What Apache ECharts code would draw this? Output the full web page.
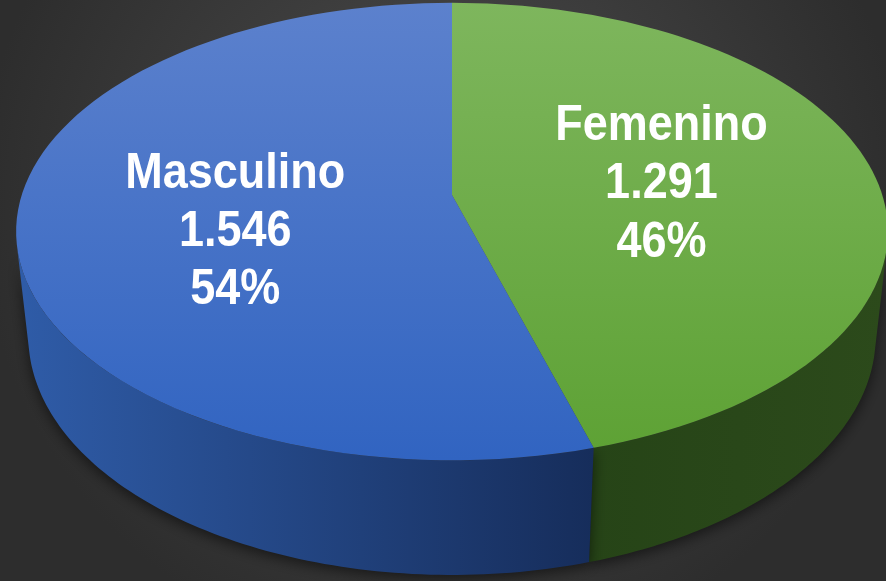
<!DOCTYPE html>
<html>
<head>
<meta charset="utf-8">
<script src="https://cdn.jsdelivr.net/npm/echarts@6/dist/echarts.min.js"></script>
<style>
  html, body { margin: 0; padding: 0; background: #333; }
  #main { width: 886px; height: 581px; }
</style>
</head>
<body>
<div id="main"></div>
<script>
// data (first slice starts at 12 o'clock, clockwise)
var categories = ['Femenino', 'Masculino'];
var values = [1291, 1546];

// styles
var topColors = [['#7eb65d', '#5ea235'], ['#5c81cd', '#3164c1']];
var wallColors = [['#264417', '#2c4a1b'], ['#2f5ca8', '#162d5b']];

// 3d view of the pie: perspective camera looking down at ~31deg
var CX = 452, CY = 195;
var SINA = 0.518, COSA = 0.855;
var DIST = 5.35, F = 2302, DEPTH = 0.291;

function project(X, Y, Z) {
  var d = DIST - (Y * COSA + Z * SINA);
  return [CX + F * X / d, CY - F * (-Y * SINA + Z * COSA) / d];
}
function rimPoint(t, Z) {
  return project(Math.sin(t), -Math.cos(t), Z);
}
function fmt(v) {
  return String(v).replace(/\B(?=(\d{3})+(?!\d))/g, '.');
}

var total = values.reduce(function (s, v) { return s + v; }, 0);
var startAngles = [];
var acc = 0;
values.forEach(function (v) {
  startAngles.push(acc / total * Math.PI * 2);
  acc += v;
});
// front-facing part of the side wall
var visFrom = Math.acos(-1 / (DIST * COSA));
var visTo = Math.PI * 2 - visFrom;

function renderItem(params, api) {
  var i = params.dataIndex;
  var v = api.value(0);
  var a0 = startAngles[i];
  var a1 = a0 + v / total * Math.PI * 2;
  var N = 90;
  var children = [];

  var w0 = Math.max(a0, visFrom), w1 = Math.min(a1, visTo);
  if (w1 > w0) {
    var upper = [], lower = [];
    for (var k = 0; k <= N; k++) {
      var t = w0 + (w1 - w0) * k / N;
      upper.push(rimPoint(t, 0));
      lower.push(rimPoint(t, -DEPTH));
    }
    children.push({
      type: 'polygon',
      z2: 1,
      shape: { points: upper.concat(lower.reverse()) },
      style: {
        fill: {
          type: 'linear', x: 0, y: 0, x2: 1, y2: 0,
          colorStops: [{ offset: 0, color: wallColors[i][0] }, { offset: 1, color: wallColors[i][1] }]
        },
        shadowColor: 'rgba(0,0,0,0.55)',
        shadowBlur: 14,
        shadowOffsetY: 4
      }
    });
  }

  var pts = [project(0, 0, 0)];
  for (var j = 0; j <= N; j++) {
    pts.push(rimPoint(a0 + (a1 - a0) * j / N, 0));
  }
  children.push({
    type: 'polygon',
    z2: 2,
    shape: { points: pts },
    style: {
      fill: {
        type: 'linear', x: 0, y: 0, x2: 0, y2: 1,
        colorStops: [{ offset: 0, color: topColors[i][0] }, { offset: 1, color: topColors[i][1] }]
      }
    }
  });

  // label sits halfway out along the slice's middle angle
  var mid = (a0 + a1) / 2;
  var lp = project(0.5 * Math.sin(mid), -0.76 * Math.cos(mid), 0);
  children.push({
    type: 'text',
    z2: 3,
    x: lp[0],
    y: lp[1] + 13,
    scaleY: 1.12,
    style: {
      text: api.value(1) + '\n' + fmt(v) + '\n' + Math.round(v / total * 100) + '%',
      fill: '#ffffff',
      font: 'bold 45px "Liberation Sans", Arial, sans-serif',
      lineHeight: 52,
      align: 'center',
      verticalAlign: 'middle'
    }
  });

  return { type: 'group', children: children };
}

var chart = echarts.init(document.getElementById('main'));
chart.setOption({
  animation: false,
  backgroundColor: {
    type: 'radial', x: 0.5, y: 0.35, r: 0.8,
    colorStops: [{ offset: 0, color: '#4d4d4d' }, { offset: 1, color: '#2d2d2d' }]
  },
  series: [{
    type: 'custom',
    coordinateSystem: 'none',
    silent: true,
    renderItem: renderItem,
    data: values.map(function (v, i) { return [v, categories[i]]; })
  }]
});
</script>
</body>
</html>
